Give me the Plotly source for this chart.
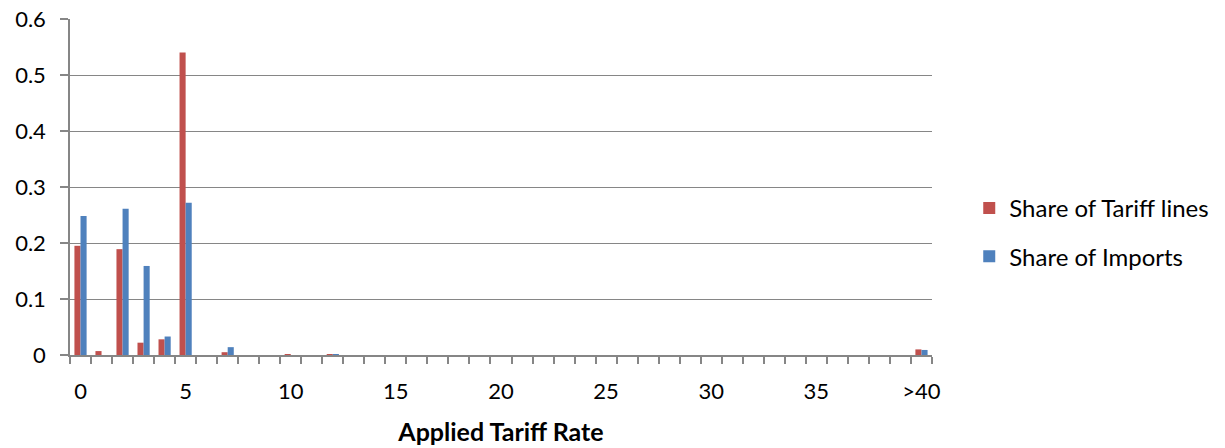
import plotly.graph_objects as go

# Applied tariff rate bins (percent); last bin collects everything above 40
rates = [str(i) for i in range(40)] + [">40"]

share_tariff_lines = [
    0.195, 0.007, 0.189, 0.022, 0.028, 0.540, 0.0, 0.005, 0.0, 0.0,
    0.001, 0.0, 0.001, 0.0, 0.0, 0.0, 0.0, 0.0, 0.0, 0.0,
    0.0, 0.0, 0.0, 0.0, 0.0, 0.0, 0.0, 0.0, 0.0, 0.0,
    0.0, 0.0, 0.0, 0.0, 0.0, 0.0, 0.0, 0.0, 0.0, 0.0,
    0.010,
]
share_imports = [
    0.248, 0.0, 0.261, 0.159, 0.033, 0.272, 0.0, 0.014, 0.0, 0.0,
    0.0, 0.0, 0.0005, 0.0, 0.0, 0.0, 0.0, 0.0, 0.0, 0.0,
    0.0, 0.0, 0.0, 0.0, 0.0, 0.0, 0.0, 0.0, 0.0, 0.0,
    0.0, 0.0, 0.0, 0.0, 0.0, 0.0, 0.0, 0.0, 0.0, 0.0,
    0.009,
]
label_every = 5

pos = list(range(len(rates)))
tick_pos = [p for p in pos if p % label_every == 0]
tick_txt = [rates[p] for p in tick_pos]

FONT = "Lato"
GRID = "#868686"

fig = go.Figure()
fig.add_trace(go.Bar(
    x=pos, y=share_tariff_lines, name="Share of Tariff lines",
    marker=dict(color="#C0504D", line=dict(width=0)), legendgroup="a",
))
fig.add_trace(go.Bar(
    x=pos, y=share_imports, name="Share of Imports",
    marker=dict(color="#4F81BD", line=dict(width=0)), legendgroup="b",
))

fig.update_layout(
    width=1225, height=448,
    margin=dict(l=70, r=292, t=19, b=93),
    paper_bgcolor="white", plot_bgcolor="white",
    font=dict(family=FONT, size=22, color="black"),
    barmode="group", bargap=0.42, bargroupgap=0.0,
    showlegend=True,
    legend=dict(
        x=1.042, y=0.365, xanchor="left", yanchor="middle",
        font=dict(family=FONT, size=24), tracegroupgap=14,
        traceorder="grouped", itemwidth=30,
    ),
    xaxis=dict(
        automargin=False,
        range=[-0.5, len(rates) - 0.5],
        tickmode="array", tickvals=tick_pos, ticktext=tick_txt,
        ticks="", showgrid=False, zeroline=False,
        showline=True, linecolor=GRID, linewidth=1.5,
        minor=dict(ticks="outside", tick0=-0.5, dtick=1, ticklen=7,
                   tickcolor=GRID, tickwidth=1.5, showgrid=False),
        title=dict(text="<b>Applied Tariff Rate</b>", standoff=20,
                   font=dict(family=FONT, size=25)),
        ticklabelstandoff=16,
    ),
    yaxis=dict(
        automargin=False,
        range=[0, 0.6], dtick=0.1, tick0=0,
        showgrid=True, gridcolor=GRID, gridwidth=1.2,
        zeroline=False, showline=True, linecolor=GRID, linewidth=1.5,
        ticks="outside", ticklen=8, tickcolor=GRID, tickwidth=1.5,
        ticklabelstandoff=10,
    ),
)

fig.write_html("out.html")
